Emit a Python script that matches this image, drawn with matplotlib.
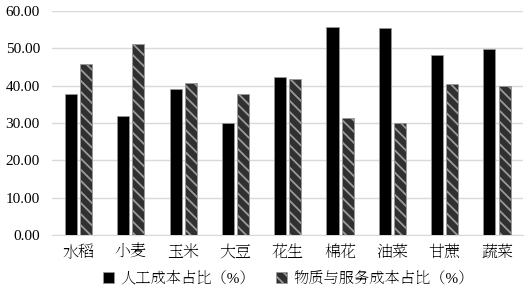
import numpy as np
import matplotlib.pyplot as plt
from matplotlib.patches import Patch

plt.rcParams['font.family'] = ['Liberation Serif', 'Noto Serif SC', 'Noto Serif CJK JP']
plt.rcParams['hatch.color'] = '#777777'
plt.rcParams['hatch.linewidth'] = 1.3

crops = ["水稻", "小麦", "玉米", "大豆", "花生", "棉花", "油菜", "甘蔗", "蔬菜"]
labor = [37.7, 31.8, 39.1, 30.0, 42.3, 55.8, 55.5, 48.3, 49.8]
material = [45.9, 51.0, 40.6, 37.7, 41.7, 31.2, 30.1, 40.3, 40.0]
series_names = ["人工成本占比（%）", "物质与服务成本占比（%）"]

x = np.arange(len(crops))
w = 0.23

fig = plt.figure(figsize=(5.29, 2.93), dpi=100)
ax = fig.add_axes([0.099, 0.198, 0.89, 0.765])

ax.bar(x - 0.145, labor, w, color='black', edgecolor='#9a9a9a', linewidth=0.5, zorder=3)
ax.bar(x + 0.145, material, w, color='#303030', edgecolor='#9a9a9a', linewidth=0.5,
       hatch='\\\\\\', zorder=3)

ax.set_xlim(-0.5, len(crops) - 0.5)
ax.set_ylim(0, 60)
ax.set_yticks(np.arange(0, 61, 10))
ax.set_yticklabels([f"{v:.2f}" for v in np.arange(0, 61, 10)], fontsize=11)
ax.set_xticks(x)
ax.set_xticklabels(crops, fontsize=11.5)
ax.tick_params(axis='x', length=0, pad=7)
ax.tick_params(axis='y', length=0, pad=9)
ax.grid(axis='y', color='#d9d9d9', linewidth=1.0, zorder=0)
for s in ['top', 'right', 'left']:
    ax.spines[s].set_visible(False)
ax.spines['bottom'].set_color('#d9d9d9')

handles = [Patch(facecolor='black', edgecolor='#9a9a9a', linewidth=0.5),
           Patch(facecolor='#303030', edgecolor='#9a9a9a', linewidth=0.5, hatch='\\\\\\')]
fig.legend(handles, series_names, loc='center', bbox_to_anchor=(0.545, 0.05), ncol=2,
           frameon=False, fontsize=11, handlelength=0.7, handleheight=0.7,
           handletextpad=0.4, columnspacing=1.4)

plt.savefig("out.png", dpi=100)
